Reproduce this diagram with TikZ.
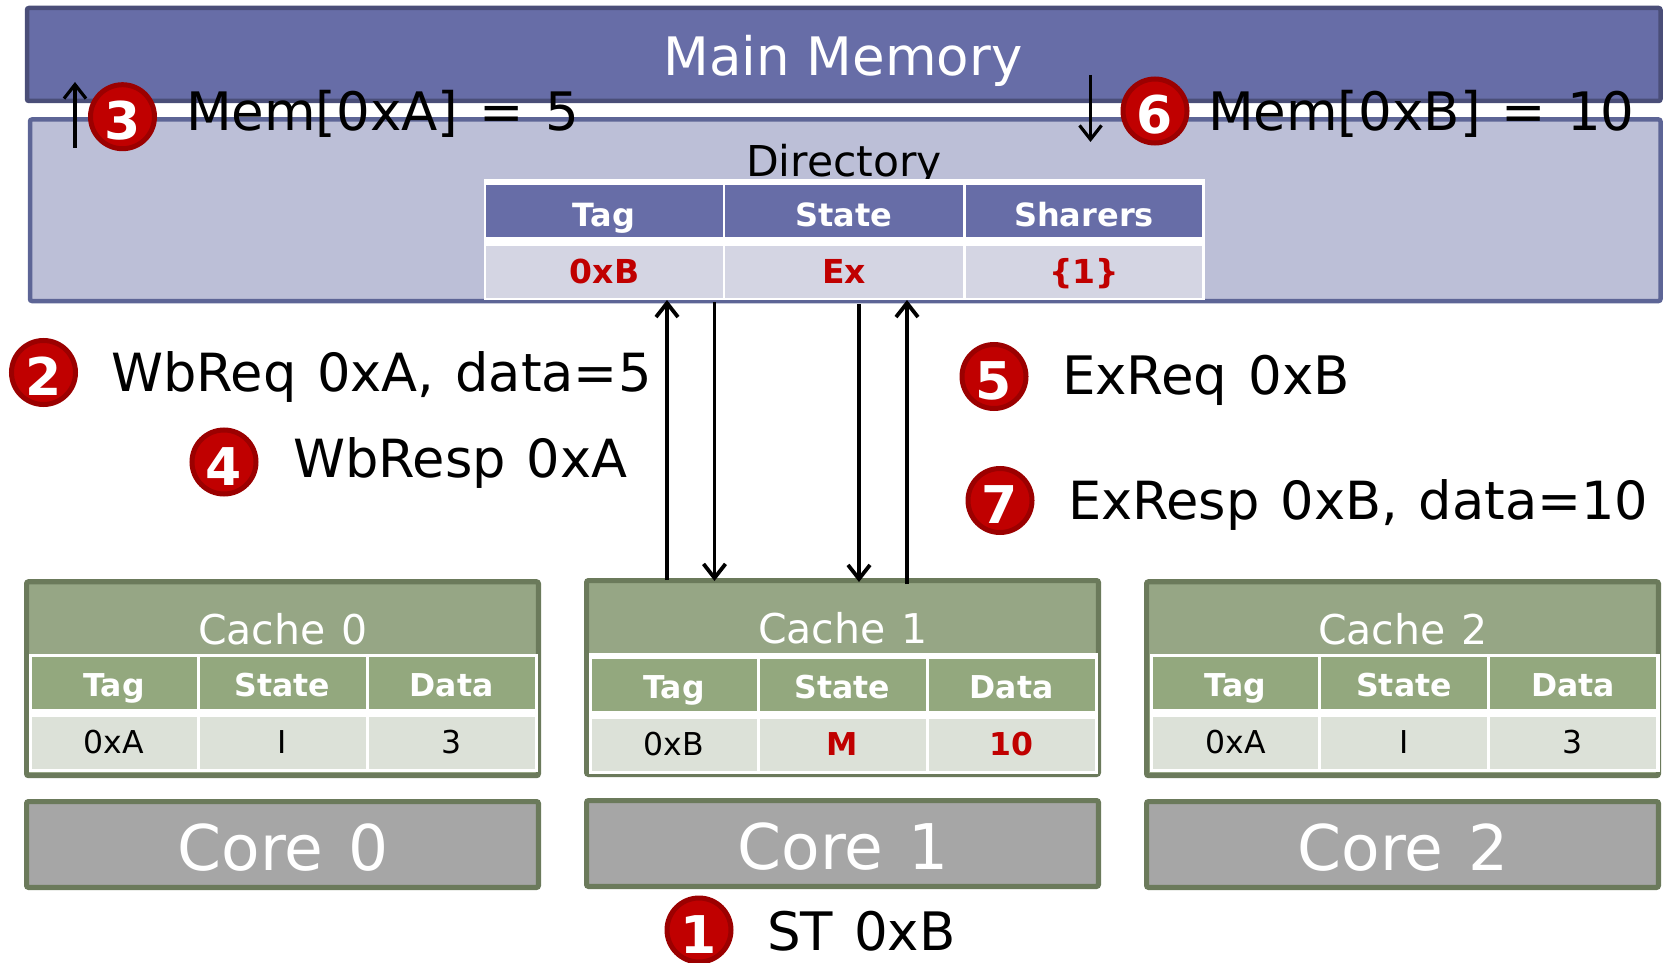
\documentclass[tikz,border=0pt]{standalone}
\usepackage{fontspec}
\setmainfont{DejaVu Sans}
\newfontfamily\lblfont[WordSpace=1.25]{DejaVu Sans}
\usetikzlibrary{arrows.meta}
\definecolor{memfill}{HTML}{676DA7}
\definecolor{memline}{HTML}{4A4E78}
\definecolor{dirfill}{HTML}{BCBFD7}
\definecolor{dirline}{HTML}{5D6596}
\definecolor{dirrow}{HTML}{D4D5E3}
\definecolor{cachefill}{HTML}{96A685}
\definecolor{cacheline}{HTML}{6B7A5B}
\definecolor{cachehead}{HTML}{93A87E}
\definecolor{cacherow}{HTML}{DCE1D8}
\definecolor{corefill}{HTML}{A6A6A6}
\definecolor{badgefill}{HTML}{C00000}
\definecolor{badgeline}{HTML}{9B0000}
\newcommand\fs[1]{\fontsize{#1}{#1}\selectfont}
\tikzset{
  panel/.style={draw,line width=4.5pt,rounded corners=2pt,inner sep=0pt,outer sep=0pt},
  memorybox/.style={panel,draw=memline,fill=memfill},
  dirbox/.style={panel,draw=dirline,fill=dirfill},
  cachebox/.style={panel,line width=5.2pt,draw=cacheline,fill=cachefill},
  corebox/.style={panel,line width=5.2pt,draw=cacheline,fill=corefill},
  backing/.style={fill=white,inner sep=0pt,outer sep=0pt},
  cell/.style={inner sep=0pt,outer sep=0pt},
  txt/.style={inner sep=0pt,outer sep=0pt,anchor=base},
  ltxt/.style={inner sep=0pt,outer sep=0pt,anchor=base west,font=\lblfont\fs{53}},
  rtxt/.style={ltxt,font=\lblfont\fs{52.6}},
  headtxt/.style={txt,font=\fs{31.5}\bfseries,text=white},
  dirhead/.style={txt,font=\fs{32}\bfseries,text=white},
  redtxt/.style={txt,font=\fs{33}\bfseries,text=badgefill},
  titletxt/.style={txt,font=\lblfont\fs{41},text=white},
  coretxt/.style={txt,font=\lblfont\fs{63},text=white},
  badge/.style={circle,draw=badgeline,fill=badgefill,line width=5pt,minimum size=64pt,inner sep=0pt,text=white,font=\fs{52}\bfseries,text height=46pt,text depth=0pt},
  link/.style={line width=3.8pt,-{Straight Barb[length=14pt,width=22pt,line width=3.8pt]}},
  thinlink/.style={line width=3.2pt,-{Straight Barb[length=14pt,width=22pt,line width=3.2pt]}}
}
\newcommand\rbox[6]{%
  \pgfmathsetmacro\rw{#5-#3}\pgfmathsetmacro\rh{#6-#4}%
  \node[#2,minimum width=\rw pt,minimum height=\rh pt,anchor=north west] (#1) at (#3,#4) {};}
% #1 number, #2 box shift, #3 table shift, #4 title baseline, #5 core shift, #6 tag, #7 state, #8 data
\newcommand\cachegroup[8]{%
  \begin{scope}[shift={(#2)}]
    \rbox{cache#1}{cachebox}{586.6}{580.6}{1098.4}{774.4}
  \end{scope}
  \begin{scope}[shift={(#5)}]
    \node[titletxt] (ctitle#1) at (843,#4) {Cache #1};
  \end{scope}
  \begin{scope}[shift={(#3)}]
    \rbox{cback#1}{backing}{588.5}{\cbacktop}{1098}{773.5}
    \rbox{ch#1a}{cell,fill=cachehead}{591.5}{658.7}{756.5}{710.7}
    \rbox{ch#1b}{cell,fill=cachehead}{759.5}{658.7}{925.5}{710.7}
    \rbox{ch#1c}{cell,fill=cachehead}{928.5}{658.7}{1094.6}{710.7}
    \rbox{cr#1a}{cell,fill=cacherow}{591.5}{718.7}{756.5}{770.7}
    \rbox{cr#1b}{cell,fill=cacherow}{759.5}{718.7}{925.5}{770.7}
    \rbox{cr#1c}{cell,fill=cacherow}{928.5}{718.7}{1094.6}{770.7}
    \node[headtxt] (cth#1a) at (674,698) {Tag};
    \node[headtxt] (cth#1b) at (842.5,698) {State};
    \node[headtxt] (cth#1c) at (1011.5,698) {Data};
    \node[anchor=base,inner sep=0pt] (ctr#1a) at (674,755.7) {#6};
    \node[anchor=base,inner sep=0pt] (ctr#1b) at (842.5,755.7) {#7};
    \node[anchor=base,inner sep=0pt] (ctr#1c) at (1011.5,755.7) {#8};
  \end{scope}
  \begin{scope}[shift={(#5)}]
    \rbox{core#1}{corebox}{586.6}{800.6}{1098.4}{886.4}
    \node[coretxt] (coret#1) at (843,869) {Core #1};
  \end{scope}}
\newcommand\plain[1]{{\fs{31.5}#1}}
\newcommand\hot[1]{{\fs{31.5}\bfseries\color{badgefill}#1}}
\begin{document}
\begin{tikzpicture}[x=1pt,y=-1pt]
\useasboundingbox (0,0) rectangle (1663,963);
% main memory and directory
\rbox{mem}{memorybox}{27}{8}{1660.5}{101}
\node[txt,font=\fs{53},text=white] (memt) at (843,76) {Main Memory};
\rbox{dir}{dirbox}{30}{119.5}{1660.5}{301}
\node[txt,font=\fs{42.5}] (dirt) at (844,176) {Directory};
\rbox{dback}{backing}{484}{179}{1204.5}{300}
\rbox{dh1}{cell,fill=memfill}{486}{185}{722.5}{237}
\rbox{dh2}{cell,fill=memfill}{725}{185}{963}{237}
\rbox{dh3}{cell,fill=memfill}{965.5}{185}{1202}{237}
\rbox{dr1}{cell,fill=dirrow}{486}{245.5}{722.5}{298}
\rbox{dr2}{cell,fill=dirrow}{725}{245.5}{963}{298}
\rbox{dr3}{cell,fill=dirrow}{965.5}{245.5}{1202}{298}
\node[dirhead] (dth1) at (604,226) {Tag};
\node[dirhead] (dth2) at (844,226) {State};
\node[dirhead] (dth3) at (1084,226) {Sharers};
\node[redtxt] (dtr1) at (604.5,283) {0xB};
\node[redtxt] (dtr2) at (844,283) {Ex};
\node[redtxt] (dtr3) at (1084,283) {\{1\}};
% caches and cores
\def\cbacktop{656.3}
\cachegroup{0}{-560,1.2}{-560,-2}{643.5}{-560,1}{\plain{0xA}}{\plain{I}}{\plain{3}}
\def\cbacktop{653}
\cachegroup{1}{0,0}{0,0}{643}{0,0}{\plain{0xB}}{\hot{M}}{\hot{10}}
\def\cbacktop{656.3}
\cachegroup{2}{560,1.2}{561.5,-2}{643.5}{560,1}{\plain{0xA}}{\plain{I}}{\plain{3}}
% connector ends
\coordinate (dirA) at (667,300);
\coordinate (cacheA) at (667,580);
\coordinate (dirB) at (714.5,302);
\coordinate (cacheB) at (714.5,581);
\coordinate (dirC) at (859,304);
\coordinate (cacheC) at (859,582);
\coordinate (dirD) at (907,300);
\coordinate (cacheD) at (907,584);
\coordinate (upS) at (75,148);
\coordinate (upE) at (75,82);
\coordinate (downS) at (1090.5,75);
\coordinate (downE) at (1090.5,142);
\draw[link] (cacheA) -- (dirA);
\draw[link] (dirB) -- (cacheB);
\draw[link] (dirC) -- (cacheC);
\draw[link] (cacheD) -- (dirD);
\draw[thinlink] (upS) -- (upE);
\draw[thinlink] (downS) -- (downE);
% step badges and labels
\node[badge] (b1) at (699,930) {1};
\node[ltxt] (l1) at (767,950) {ST 0xB};
\node[badge] (b2) at (43.5,372.5) {2};
\node[rtxt] (l2) at (111,391) {WbReq 0xA, data=5};
\node[badge] (b3) at (122.5,116.7) {3};
\node[ltxt] (l3) at (186,131) {Mem[0xA] = 5};
\node[badge] (b4) at (224,462) {4};
\node[rtxt] (l4) at (293,477) {WbResp 0xA};
\node[badge] (b5) at (994,376.5) {5};
\node[ltxt] (l5) at (1062,394) {ExReq 0xB};
\node[badge] (b6) at (1155,111) {6};
\node[ltxt] (l6) at (1208,131) {Mem[0xB] = 10};
\node[badge] (b7) at (1000,500.5) {7};
\node[rtxt] (l7) at (1068,519) {ExResp 0xB, data=10};
\end{tikzpicture}
\end{document}
